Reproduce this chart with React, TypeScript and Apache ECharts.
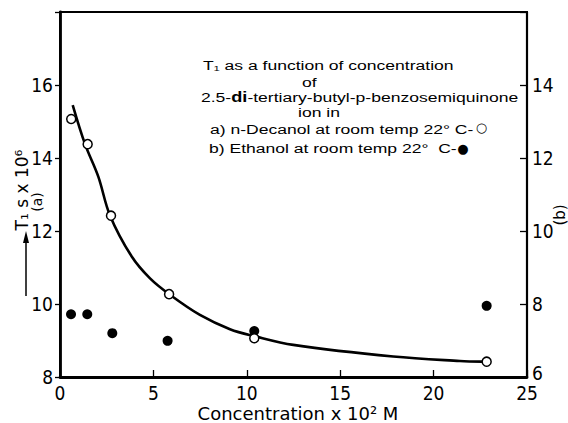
import React, { useEffect, useRef } from "react";
import * as echarts from "echarts";

// Fitted curve for n-decanol (left axis, a)
const curveX = [0.68, 1.34, 2.05, 2.68, 3.84, 4.82, 5.84, 7.49, 9.1, 10.4, 12.49, 17.84, 21.41, 22.6];
const curveY = [15.45, 14.38, 13.49, 12.42, 11.3, 10.7, 10.27, 9.7, 9.31, 9.12, 8.88, 8.56, 8.44, 8.42];

// Measured points, n-decanol (open circles, left axis)
const decanolX = [0.6, 1.48, 2.73, 5.84, 10.4, 22.84];
const decanolY = [15.07, 14.38, 12.42, 10.27, 9.06, 8.42];

// Measured points, ethanol (filled circles, right axis)
const ethanolX = [0.59, 1.46, 2.8, 5.76, 10.4, 22.84];
const ethanolY = [7.72, 7.72, 7.2, 6.99, 7.26, 7.95];

const xTicks = [0, 5, 10, 15, 20, 25];
const leftTicks = [8, 10, 12, 14, 16];
const rightTicks = [6, 8, 10, 12, 14];

const annotationLines = [
  "T₁ as a function of concentration",
  "of",
  "2.5-{b|di}-tertiary-butyl-p-benzosemiquinone",
  "ion in",
  "a) n-Decanol at room temp 22° C-",
  "b) Ethanol at room temp 22°  C-",
];
const keySymbols = ["○", "●"];

const TEXT_FONT = "'DejaVu Sans', 'Noto Sans', sans-serif";
const NOTE_FONT = "'Liberation Sans', 'DejaVu Sans', sans-serif";
const NUM_FONT = "'Liberation Sans Narrow', 'DejaVu Sans Condensed', 'Liberation Sans', sans-serif";

export default function App() {
  const ref = useRef<HTMLDivElement>(null);

  useEffect(() => {
    if (!ref.current) return;
    const chart = echarts.init(ref.current, null, { renderer: "svg" });

    // left edge and baseline of each note line
    const annPos = [
      [203, 69.5],
      [302, 86.5],
      [201, 101.8],
      [298, 117],
      [210, 133.5],
      [209, 152.7],
    ];
    const annFs = 13.5;

    const graphic: any[] = annotationLines.map((t, i) => ({
      type: "text",
      x: annPos[i][0],
      y: annPos[i][1] - annFs * 0.346,
      scaleX: 1.3,
      silent: true,
      style: {
        text: t,
        fill: "#000",
        fontFamily: NOTE_FONT,
        fontSize: annFs,
        align: "left",
        verticalAlign: "middle",
        rich: {
          b: { fontFamily: NOTE_FONT, fontSize: 14, fontWeight: "bold", fill: "#000" },
        },
      },
    }));

    // key symbols after the two solvent lines
    const symPos = [
      [481.5, 127.5, 13],
      [463, 148, 13],
    ];
    keySymbols.forEach((s, i) => {
      graphic.push({
        type: "text",
        x: symPos[i][0],
        y: symPos[i][1],
        silent: true,
        style: {
          text: s,
          fill: "#000",
          fontFamily: TEXT_FONT,
          fontSize: symPos[i][2],
          align: "center",
          verticalAlign: "middle",
        },
      });
    });

    // left axis title with arrow
    graphic.push(
      {
        type: "text",
        x: 22,
        y: 190,
        rotation: Math.PI / 2,
        silent: true,
        style: {
          text: "T₁ s x 10⁶",
          fill: "#000",
          fontFamily: TEXT_FONT,
          fontSize: 17,
          align: "center",
          verticalAlign: "middle",
        },
      },
      {
        type: "text",
        x: 37,
        y: 202,
        rotation: Math.PI / 2,
        silent: true,
        style: {
          text: "(a)",
          fill: "#000",
          fontFamily: TEXT_FONT,
          fontSize: 14,
          align: "center",
          verticalAlign: "middle",
        },
      },
      {
        type: "line",
        silent: true,
        shape: { x1: 26, y1: 296, x2: 26, y2: 240 },
        style: { stroke: "#000", lineWidth: 1.5 },
      },
      {
        type: "polygon",
        silent: true,
        shape: { points: [[26, 231], [23, 243], [29, 243]] },
        style: { fill: "#000" },
      },
      {
        type: "text",
        x: 560,
        y: 215,
        rotation: Math.PI / 2,
        silent: true,
        style: {
          text: "(b)",
          fill: "#000",
          fontFamily: TEXT_FONT,
          fontSize: 15,
          align: "center",
          verticalAlign: "middle",
        },
      },
      {
        type: "text",
        x: 298,
        y: 413.5,
        silent: true,
        style: {
          text: "Concentration x 10² M",
          fill: "#000",
          fontFamily: TEXT_FONT,
          fontSize: 18,
          align: "center",
          verticalAlign: "middle",
        },
      }
    );

    chart.setOption({
      animation: false,
      backgroundColor: "#fff",
      grid: {
        left: 60,
        right: 41,
        top: 12,
        bottom: 46,
        show: true,
        borderColor: "#000",
        borderWidth: 2,
        backgroundColor: "transparent",
      },
      xAxis: {
        type: "value",
        min: 0,
        max: 25,
        interval: 5,
        axisLine: { onZero: false, lineStyle: { color: "#000", width: 2.8 } },
        axisTick: { inside: true, length: 7, lineStyle: { color: "#000", width: 1.3 } },
        axisLabel: {
          margin: 6,
          color: "#000",
          fontFamily: NUM_FONT,
          fontSize: 19,
          formatter: (v: number) => (xTicks.includes(v) ? String(v) : ""),
        },
        splitLine: { show: false },
      },
      yAxis: [
        {
          type: "value",
          position: "left",
          min: 8,
          max: 18,
          interval: 2,
          axisLine: { show: true, onZero: false, lineStyle: { color: "#000", width: 2.8 } },
          axisTick: { show: true, inside: false, length: 5, lineStyle: { color: "#000", width: 1.3 } },
          axisLabel: {
            margin: 7,
            color: "#000",
            fontFamily: NUM_FONT,
            fontSize: 19,
            formatter: (v: number) => (leftTicks.includes(v) ? String(v) : ""),
          },
          splitLine: { show: false },
        },
        {
          type: "value",
          position: "right",
          min: 6,
          max: 16,
          interval: 2,
          axisLine: { show: true, onZero: false, lineStyle: { color: "#000", width: 2.2 } },
          axisTick: { show: true, inside: true, length: 7, lineStyle: { color: "#000", width: 1.3 } },
          axisLabel: {
            margin: 5,
            color: "#000",
            fontFamily: NUM_FONT,
            fontSize: 19,
            // the lowest label sits a little higher, clear of the x labels
            formatter: (v: number) =>
              v === rightTicks[0] ? `{lo|${v}}` : rightTicks.includes(v) ? String(v) : "",
            rich: {
              lo: { fontFamily: NUM_FONT, fontSize: 19, color: "#000", padding: [0, 0, 8, 0] },
            },
          },
          splitLine: { show: false },
        },
      ],
      series: [
        {
          type: "line",
          yAxisIndex: 0,
          data: curveX.map((x, i) => [x, curveY[i]]),
          smooth: 0.35,
          showSymbol: false,
          symbol: "none",
          lineStyle: { color: "#000", width: 2.6 },
          z: 2,
        },
        {
          type: "scatter",
          yAxisIndex: 1,
          data: ethanolX.map((x, i) => [x, ethanolY[i]]),
          symbol: "circle",
          symbolSize: 10,
          itemStyle: { color: "#000", opacity: 1 },
          z: 3,
        },
        {
          type: "scatter",
          yAxisIndex: 0,
          data: decanolX.map((x, i) => [x, decanolY[i]]),
          symbol: "circle",
          symbolSize: 9,
          itemStyle: { color: "#fff", borderColor: "#000", borderWidth: 1.5, opacity: 1 },
          z: 4,
        },
      ],
      graphic,
    });

    return () => chart.dispose();
  }, []);

  return <div ref={ref} style={{ width: 568, height: 423, position: "absolute", left: 0, top: 0 }} />;
}
